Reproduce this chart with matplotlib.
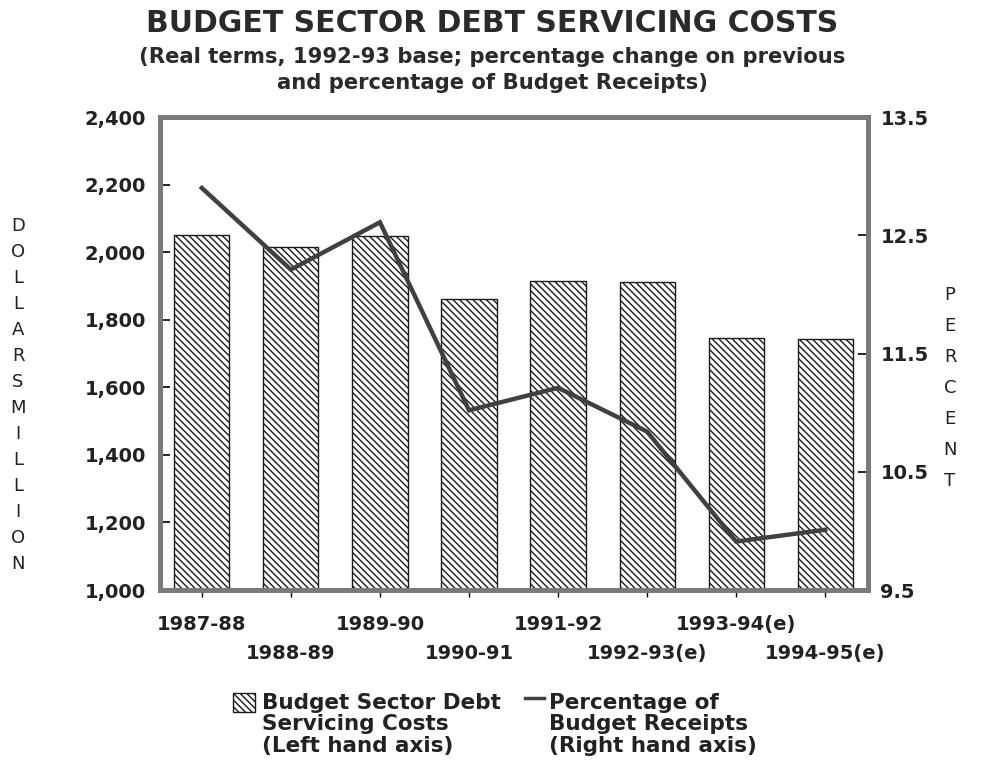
import matplotlib
matplotlib.use("Agg")
import matplotlib.pyplot as plt
from matplotlib.patches import Rectangle
from matplotlib.lines import Line2D
from matplotlib.ticker import FuncFormatter

# Data
years = ["1987-88", "1988-89", "1989-90", "1990-91", "1991-92",
         "1992-93(e)", "1993-94(e)", "1994-95(e)"]
debt_costs = [2050, 2015, 2047, 1860, 1916, 1912, 1745, 1744]      # $ million
pct_receipts = [12.90, 12.21, 12.61, 11.02, 11.21, 10.84, 9.91, 10.01]  # percent

left_ticks = [1000, 1200, 1400, 1600, 1800, 2000, 2200, 2400]
right_ticks = [9.5, 10.5, 11.5, 12.5, 13.5]

plt.rcParams["font.family"] = ["DejaVu Sans"]
plt.rcParams["hatch.linewidth"] = 1.0
plt.rcParams["hatch.color"] = "#1a1a1a"

HATCH = "\\" * 5
INK = "#222222"

fig = plt.figure(figsize=(9.85, 7.64), dpi=100)
ax = fig.add_axes([0.1624, 0.2277, 0.7188, 0.6191])
ax2 = ax.twinx()

x = list(range(len(years)))
ax.bar(x, debt_costs, width=0.62, color="white", edgecolor="#1a1a1a",
       linewidth=1.0, hatch=HATCH, zorder=2)
ax.set_xlim(-0.47, len(years) - 1 + 0.48)
ax.set_ylim(1000, 2400)
ax.set_yticks(left_ticks)
ax.yaxis.set_major_formatter(FuncFormatter(lambda v, p: f"{int(v):,}"))

ax2.plot(x, pct_receipts, color="#404040", linewidth=3.2, zorder=3,
         solid_joinstyle="miter")
ax2.set_ylim(9.5, 13.5)
ax2.set_yticks(right_ticks)
ax2.yaxis.set_major_formatter(FuncFormatter(lambda v, p: f"{v:.1f}"))

tick_font = dict(labelsize=14, labelcolor=INK)
ax.tick_params(axis="y", direction="in", length=7, width=1.2, pad=10,
               **tick_font)
ax2.tick_params(axis="y", direction="in", length=7, width=1.2, pad=9,
                **tick_font)
ax.set_xticks(x)
ax.set_xticklabels(years)
ax.tick_params(axis="x", direction="out", length=5, width=1.0, **tick_font)
for lbl in ax.get_xticklabels() + ax.get_yticklabels() + ax2.get_yticklabels():
    lbl.set_fontweight("bold")
for i, tick in enumerate(ax.xaxis.get_major_ticks()):
    tick.set_pad(13 if i % 2 == 0 else 34)

for a in (ax, ax2):
    for side in ("left", "right", "top", "bottom"):
        a.spines[side].set_color("#7a7a7a")
        a.spines[side].set_linewidth(3.5)
ax.set_zorder(1)
ax2.set_zorder(2)
ax.patch.set_visible(False)

# Titles
fig.text(0.5, 1 - 24 / 764, "BUDGET SECTOR DEBT SERVICING COSTS", ha="center",
         va="center", fontsize=21.5, fontweight="bold", color="#2a2a2a")
fig.text(0.5, 1 - 70 / 764, "(Real terms, 1992-93 base; percentage change on previous\n"
         "and percentage of Budget Receipts)", ha="center", va="center",
         fontsize=15.2, fontweight="bold", color="#2a2a2a", linespacing=1.32)

# Stacked axis titles
fig.text(18 / 985, 1 - 395 / 764, "\n".join("DOLLARSMILLION"), ha="center",
         va="center", fontsize=13, color="#222222", linespacing=1.57)
fig.text(950 / 985, 1 - 388 / 764, "\n".join("PERCENT"), ha="center",
         va="center", fontsize=13, color="#222222", linespacing=1.92)

# Legend
fig.patches.append(Rectangle((233 / 985, 1 - 712 / 764), 22 / 985, 19 / 764,
                             transform=fig.transFigure, facecolor="white",
                             edgecolor="#1a1a1a", linewidth=1.0, hatch=HATCH))
fig.lines.append(Line2D([525 / 985, 544 / 985], [1 - 698 / 764, 1 - 698 / 764],
                        transform=fig.transFigure, color="#404040",
                        linewidth=2.5))
legend_font = dict(ha="left", va="top", fontsize=15.5, fontweight="bold",
                   color="#222222", linespacing=1.08)
fig.text(262 / 985, 1 - 693 / 764,
         "Budget Sector Debt\nServicing Costs\n(Left hand axis)", **legend_font)
fig.text(549 / 985, 1 - 693 / 764,
         "Percentage of\nBudget Receipts\n(Right hand axis)", **legend_font)

fig.savefig("out.png", dpi=100)
